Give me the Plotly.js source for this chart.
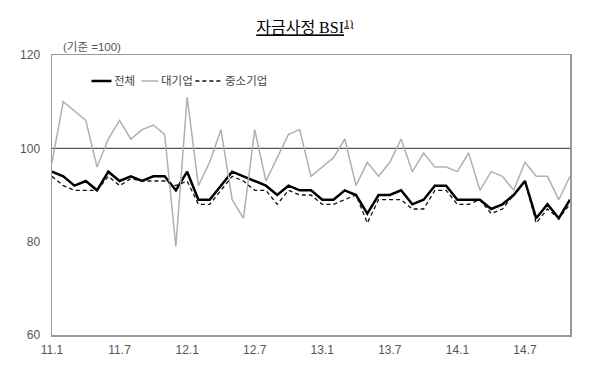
<!DOCTYPE html>
<html><head><meta charset="utf-8">
<script src="https://cdn.plot.ly/plotly-3.0.1.min.js"></script>
<style>html,body{margin:0;padding:0;background:#fff;}</style>
</head><body>
<div id="chart" style="width:600px;height:370px;"></div>
<script>
const months = ['11.1','11.2','11.3','11.4','11.5','11.6','11.7','11.8','11.9','11.10','11.11','11.12',
 '12.1','12.2','12.3','12.4','12.5','12.6','12.7','12.8','12.9','12.10','12.11','12.12',
 '13.1','13.2','13.3','13.4','13.5','13.6','13.7','13.8','13.9','13.10','13.11','13.12',
 '14.1','14.2','14.3','14.4','14.5','14.6','14.7','14.8','14.9','14.10','14.11'];
const total = [95,94,92,93,91,95,93,94,93,94,94,91,
 95,89,89,92,95,94,93,92,90,92,91,91,
 89,89,91,90,86,90,90,91,88,89,92,92,
 89,89,89,87,88,90,93,85,88,85,89];
const large = [97,110,108,106,96,102,106,102,104,105,103,79,
 111,92,97,104,89,85,104,93,98,103,104,94,
 96,98,102,92,97,94,97,102,95,99,96,96,
 95,99,91,95,94,91,97,94,94,89,94];
const sme = [94,92,91,91,91,94,92,93.5,93,93,93,92,
 93,88,88,91,94,93,91,91,88,91,90,90,
 88,88,89,90,84,89,89,89,87,87,91,91,
 88,88,89,86,87,90,93,84,87,85,88];
const seriesNames = ['전체','대기업','중소기업'];
const tickLabels = ['11.1','11.7','12.1','12.7','13.1','13.7','14.1','14.7'];
const tickIdx = tickLabels.map(t => months.indexOf(t));
const x = months.map((m,i)=>i);

const font = 'Liberation Sans, Noto Sans CJK KR, sans-serif';
const styles = [
 {color:'#000', width:2.5},
 {color:'#b0b0b0', width:1.5},
 {color:'#111', width:1.3, dash:'4px,3px'}
];
const values = [total, large, sme];
const traces = values.map((v,k)=>({x:x, y:v, name:seriesNames[k], type:'scatter', mode:'lines', line:styles[k], showlegend:false}));

// custom compact legend (plot area: left 51.5px, width 518.5px, top 55, height 280)
const L = 51.5, W = 518.5, T = 55, H = 280;
const px = p => (p - L) / W;
const py = p => (T + H - p) / H;
const legendY = 81;
const legendStarts = [91, 141, 195];
const legendLineLen = [20, 17, 27];
const shapes = [{type:'line', xref:'paper', x0:0, x1:1, yref:'y', y0:100, y1:100, line:{color:'#555', width:1.3}, layer:'below'}];
const annotations = [{text:'(기준 =100)', xref:'paper', yref:'paper', x:px(61), y:py(47), xanchor:'left', yanchor:'middle',
   showarrow:false, font:{family:font, size:11.5, color:'#555'}}];
seriesNames.forEach((n,k)=>{
 const s = legendStarts[k], e = s + legendLineLen[k];
 shapes.push({type:'line', xref:'paper', yref:'paper', x0:px(s), x1:px(e), y0:py(legendY), y1:py(legendY), line:styles[k]});
 annotations.push({text:n, xref:'paper', yref:'paper', x:px(e+1), y:py(legendY), xanchor:'left', yanchor:'middle',
   showarrow:false, font:{family:font, size:11.5, color:'#444'}});
});

const layout = {
 width:600, height:370,
 margin:{l:51.5, r:30, t:55, b:35},
 paper_bgcolor:'#fff', plot_bgcolor:'#fff',
 title:{text:'<u>자금사정 BSI<sup>1)</sup></u>', x:0.508, xanchor:'center', y:0.925, yanchor:'middle', yref:'container',
   font:{family:'Liberation Serif, Noto Sans CJK KR, serif', size:16, color:'#000'}},
 showlegend:false,
 xaxis:{range:[0,46], tickvals:tickIdx, ticktext:tickLabels, showgrid:false, zeroline:false,
   showline:true, linecolor:'#999', linewidth:1.5, mirror:true,
   ticks:'outside', ticklen:3, tickcolor:'rgba(0,0,0,0)',
   tickfont:{family:font, size:12, color:'#555'}},
 yaxis:{range:[60,120], tickvals:[60,80,100,120], showgrid:false, zeroline:false,
   showline:true, linecolor:'#999', linewidth:1.5, mirror:true,
   ticks:'outside', ticklen:8, tickcolor:'rgba(0,0,0,0)',
   tickfont:{family:font, size:12, color:'#555'}},
 shapes:shapes,
 annotations:annotations
};
Plotly.newPlot('chart', traces, layout, {displayModeBar:false, staticPlot:true});
</script>
</body></html>
